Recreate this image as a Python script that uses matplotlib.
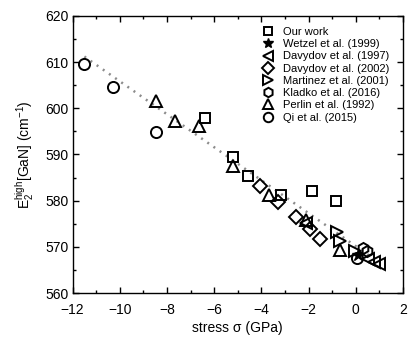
import matplotlib
matplotlib.use('Agg')
import matplotlib.pyplot as plt
from matplotlib.ticker import MultipleLocator

plt.rcParams['font.family'] = ['Liberation Sans', 'DejaVu Sans']
plt.rcParams['mathtext.default'] = 'regular'

# data
our_x = [-6.4, -5.2, -4.55, -3.15, -1.85, -0.85]
our_y = [598.0, 589.5, 585.4, 581.2, 582.0, 579.9]

wetzel_x = [0.1]
wetzel_y = [568.3]

dav97_x = [-2.1, 0.5, 0.75, 0.97]
dav97_y = [575.2, 567.3, 566.8, 566.2]

dav02_x = [-4.06, -3.3, -2.53, -1.96, -1.51]
dav02_y = [583.1, 579.7, 576.5, 573.8, 571.8]

mart_x = [-0.81, -0.68, -0.05]
mart_y = [573.2, 571.2, 569.0]

klad_x = [0.32, 0.47]
klad_y = [569.8, 569.2]

perlin_x = [-8.47, -7.68, -6.64, -5.2, -3.68, -2.12, -0.68]
perlin_y = [601.6, 597.2, 596.1, 587.6, 581.2, 575.9, 569.3]

qi_x = [-11.52, -10.3, -8.46, 0.05]
qi_y = [609.6, 604.5, 594.9, 567.6]

fit_x = [-11.5, 0.6]
fit_y = [611.2, 568.0]

fig = plt.figure(figsize=(4.1, 3.38), dpi=100)
ax = fig.add_axes([0.177, 0.133, 0.806, 0.82])

ax.plot(fit_x, fit_y, color='#8c8c8c', lw=1.8, dashes=(0.8, 2.2), zorder=1)

mk = dict(linestyle='none', mfc='none', mec='black', mew=1.4, color='black')
ax.plot(our_x, our_y, marker='s', ms=7, label='Our work', **mk)
ax.plot(wetzel_x, wetzel_y, marker='*', ms=9, linestyle='none', color='black',
        label='Wetzel et al. (1999)', zorder=1.5)
ax.plot(dav97_x, dav97_y, marker='<', ms=8, label='Davydov et al. (1997)', **mk)
ax.plot(dav02_x, dav02_y, marker='D', ms=7, label='Davydov et al. (2002)', **mk)
ax.plot(mart_x, mart_y, marker='>', ms=8, label='Martinez et al. (2001)', **mk)
ax.plot(klad_x, klad_y, marker='h', ms=8, label='Kladko et al. (2016)', **mk)
ax.plot(perlin_x, perlin_y, marker='^', ms=8, label='Perlin et al. (1992)', **mk)
ax.plot(qi_x, qi_y, marker='o', ms=8, label='Qi et al. (2015)', **mk)

ax.set_xlim(-12, 2)
ax.set_ylim(560, 620)
ax.xaxis.set_major_locator(MultipleLocator(2))
ax.xaxis.set_minor_locator(MultipleLocator(1))
ax.yaxis.set_major_locator(MultipleLocator(10))
ax.yaxis.set_minor_locator(MultipleLocator(5))
ax.tick_params(which='both', direction='in', top=True, right=True, labelsize=10, width=1)
ax.tick_params(which='major', length=4.5)
ax.tick_params(which='minor', length=2.5)
ax.tick_params(axis='x', pad=7)
ax.tick_params(axis='y', pad=3)
for s in ax.spines.values():
    s.set_linewidth(1)

ax.set_xlabel('stress σ (GPa)', fontsize=10, labelpad=3)
ax.set_ylabel(r'E$_2^{high}$[GaN] (cm$^{-1}$)', fontsize=10, labelpad=6)

leg = ax.legend(loc='upper left', bbox_to_anchor=(0.575, 0.96), frameon=False, fontsize=8,
                handlelength=1.0, handletextpad=0.8, labelspacing=0.2,
                borderaxespad=0, borderpad=0, markerscale=0.85)

fig.savefig('out.png', dpi=100)
